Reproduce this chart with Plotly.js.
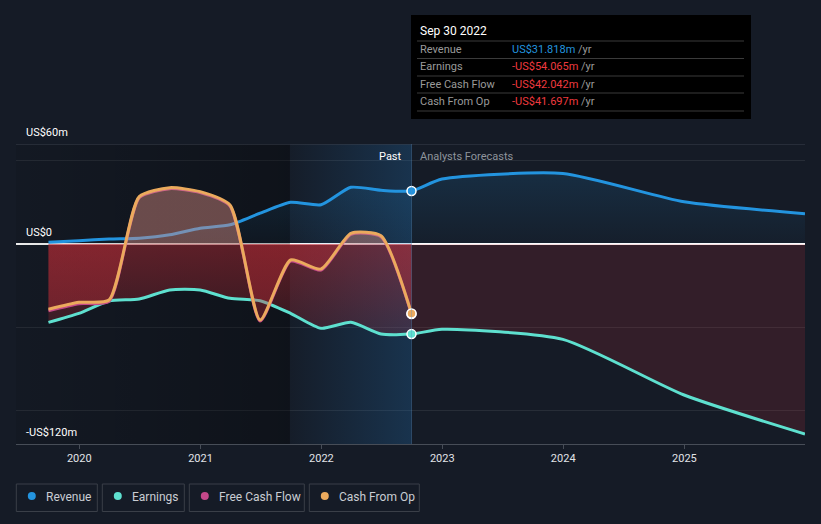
<!DOCTYPE html>
<html>
<head>
<meta charset="utf-8">
<script src="https://cdn.plot.ly/plotly-3.0.1.min.js"></script>
<style>
  html, body { margin: 0; padding: 0; background: #151b26; }
  #chart { width: 821px; height: 524px; }
</style>
</head>
<body>
<div id="chart"></div>
<script>
// ---------------- DATA ----------------
const pastDates = ['2019-09-30','2019-12-31','2020-03-31','2020-06-30','2020-09-30','2020-12-31',
                   '2021-03-31','2021-06-30','2021-09-30','2021-12-31','2022-03-31','2022-06-30','2022-09-30'];
const forecastDates = ['2022-12-31','2023-12-31','2024-12-31','2025-12-31'];

const revenuePast     = [1.0, 2.0, 3.0, 3.5, 5.5, 9.5, 11.5, 18.5, 25.0, 23.5, 34.0, 32.2, 31.818];
const revenueForecast = [39.0, 42.3, 25.3, 18.2];

const earningsPast     = [-47.0, -41.6, -34.2, -33.0, -27.6, -27.6, -32.6, -34.0, -41.6, -50.6, -47.0, -54.0, -54.065];
const earningsForecast = [-51.2, -57.2, -90.6, -114.0];

const fcfPast = [-40.0, -35.8, -34.4, 27.8, 33.2, 30.8, 22.8, -46.2, -10.3, -15.7, 5.8, 4.4, -42.042];
const cfoPast = [-39.2, -35.0, -33.6, 28.4, 33.8, 31.4, 23.4, -45.6, -9.6, -15.0, 6.4, 5.0, -41.697];

const yTickLabels = ['US$60m', 'US$0', '-US$120m'];
const yTickValues = [60, 0, -120];
const xTickValues = ['2020-01-01','2021-01-01','2022-01-01','2023-01-01','2024-01-01','2025-01-01'];
const xTickLabels = ['2020','2021','2022','2023','2024','2025'];

const tooltipDate = 'Sep 30 2022';
const tooltipRows = ['Revenue', 'Earnings', 'Free Cash Flow', 'Cash From Op'];
const tooltipValues = ['US$31.818m', '-US$54.065m', '-US$42.042m', '-US$41.697m'];

const legendNames = ['Revenue', 'Earnings', 'Free Cash Flow', 'Cash From Op'];

// ---------------- STYLE ----------------
const C_REV = '#2394df', C_EARN = '#5ee0cf', C_FCF = '#c4488a', C_CFO = '#ebaa5d';
const X_START = '2019-06-24', X_END = '2025-12-31';
const PAST_END = pastDates[pastDates.length - 1];
const HL_START = '2021-09-28';
const FONT = 'Roboto, "Open Sans", sans-serif';

// pixel -> paper helpers (plot area: x 16..805, y 144..444)
const L = 16, R = 805, T = 144, B = 444;
const px = x => (x - L) / (R - L);
const py = y => (B - y) / (B - T);

const last = a => a[a.length - 1];

const traces = [];

// background: darker past area
traces.push({
  x: [X_START, X_START, HL_START, HL_START], y: [-120, 60, 60, -120],
  mode: 'lines', line: {width: 0}, fill: 'toself',
  fillcolor: 'rgba(0,0,0,0.2)',
  fillgradient: {type: 'horizontal', colorscale: [[0, 'rgba(0,0,0,0.08)'], [1, 'rgba(0,0,0,0.32)']]},
  hoverinfo: 'skip', showlegend: false
});
// background: last-year highlight
traces.push({
  x: [HL_START, HL_START, PAST_END, PAST_END], y: [-120, 60, 60, -120],
  mode: 'lines', line: {width: 0}, fill: 'toself',
  fillcolor: 'rgba(35,120,190,0.15)',
  fillgradient: {type: 'horizontal', colorscale: [[0, 'rgba(35,120,190,0.02)'], [1, 'rgba(35,120,190,0.26)']]},
  hoverinfo: 'skip', showlegend: false
});

// revenue
traces.push({
  x: pastDates.concat(forecastDates), y: revenuePast.concat(revenueForecast),
  mode: 'lines', line: {color: C_REV, width: 3, shape: 'spline', smoothing: 0.6},
  fill: 'tozeroy', fillcolor: 'rgba(35,148,223,0.1)',
  fillgradient: {type: 'vertical', start: 0, stop: 45,
    colorscale: [[0, 'rgba(35,148,223,0.03)'], [1, 'rgba(35,148,223,0.16)']]},
  hoverinfo: 'skip', showlegend: false
});

// earnings fills
traces.push({
  x: pastDates, y: earningsPast,
  mode: 'lines', line: {width: 0, shape: 'spline', smoothing: 0.6},
  fill: 'tozeroy', fillcolor: 'rgba(200,45,55,0.3)',
  fillgradient: {type: 'vertical', start: -60, stop: 0,
    colorscale: [[0, 'rgba(200,45,55,0.16)'], [1, 'rgba(200,45,55,0.42)']]},
  hoverinfo: 'skip', showlegend: false
});
traces.push({
  x: [PAST_END].concat(forecastDates), y: [last(earningsPast)].concat(earningsForecast),
  mode: 'lines', line: {width: 0, shape: 'spline', smoothing: 0.6},
  fill: 'tozeroy', fillcolor: 'rgba(200,50,60,0.17)',
  hoverinfo: 'skip', showlegend: false
});
// earnings line
traces.push({
  x: pastDates.concat(forecastDates), y: earningsPast.concat(earningsForecast),
  mode: 'lines', line: {color: C_EARN, width: 3, shape: 'spline', smoothing: 0.6},
  hoverinfo: 'skip', showlegend: false
});

// free cash flow
traces.push({
  x: pastDates, y: fcfPast,
  mode: 'lines', line: {color: C_FCF, width: 3, shape: 'spline', smoothing: 0.6},
  hoverinfo: 'skip', showlegend: false
});

// cash from op
traces.push({
  x: pastDates, y: cfoPast,
  mode: 'lines', line: {color: C_CFO, width: 3, shape: 'spline', smoothing: 0.6},
  fill: 'tozeroy', fillcolor: 'rgba(200,45,55,0.35)',
  fillgradient: {type: 'vertical', start: -120, stop: 60,
    colorscale: [[0, 'rgba(200,45,55,0.35)'], [0.6660, 'rgba(200,45,55,0.35)'],
                 [0.6672, 'rgba(215,140,130,0.45)'], [1, 'rgba(215,140,130,0.45)']]},
  hoverinfo: 'skip', showlegend: false
});

// end markers
[[revenuePast, C_REV], [earningsPast, C_EARN], [fcfPast, C_FCF], [cfoPast, C_CFO]].forEach(([arr, col]) => {
  traces.push({
    x: [PAST_END], y: [last(arr)], mode: 'markers',
    marker: {size: 9, color: col, line: {color: '#ffffff', width: 1.5}},
    hoverinfo: 'skip', showlegend: false
  });
});

// ---------------- LAYOUT ----------------
const shapes = [
  // top gridline
  {type: 'line', xref: 'paper', yref: 'y', x0: 0, x1: 1, y0: 60, y1: 60,
   line: {color: '#3a414c', width: 1}},
  // past/forecast divider
  {type: 'line', xref: 'x', yref: 'paper', x0: PAST_END, x1: PAST_END, y0: 0, y1: 1,
   line: {color: 'rgba(90,140,190,0.35)', width: 1}},
  // tooltip box
  {type: 'rect', xref: 'paper', yref: 'paper', x0: px(411), x1: px(751), y0: py(119), y1: py(15),
   fillcolor: '#000000', line: {width: 0}, layer: 'above'}
];
[41, 58.5, 76, 93, 111].forEach(yy => {
  shapes.push({type: 'line', xref: 'paper', yref: 'paper', x0: px(417), x1: px(744), y0: py(yy), y1: py(yy),
               line: {color: '#3b3b3b', width: 1}, layer: 'above'});
});

const annotations = [];
yTickLabels.forEach((t, i) => {
  const yPix = {60: 132, 0: 232, '-120': 432}[yTickValues[i]];
  annotations.push({text: t, xref: 'paper', yref: 'paper', x: px(24), y: py(yPix),
    xanchor: 'left', yanchor: 'middle', showarrow: false,
    font: {family: FONT, size: 11, color: '#ffffff'}});
});
annotations.push({text: 'Past', xref: 'x', yref: 'paper', x: PAST_END, xshift: -7, y: py(156),
  xanchor: 'right', yanchor: 'middle', showarrow: false, font: {family: FONT, size: 11, color: '#ffffff'}});
annotations.push({text: 'Analysts Forecasts', xref: 'x', yref: 'paper', x: PAST_END, xshift: 7, y: py(156),
  xanchor: 'left', yanchor: 'middle', showarrow: false, font: {family: FONT, size: 11, color: '#8e949c'}});

// tooltip text
annotations.push({text: tooltipDate, xref: 'paper', yref: 'paper', x: px(418), y: py(31),
  xanchor: 'left', yanchor: 'middle', showarrow: false, font: {family: FONT, size: 12, color: '#ffffff'}});
const rowY = [49.5, 66.8, 84.2, 101.6];
tooltipRows.forEach((r, i) => {
  annotations.push({text: r, xref: 'paper', yref: 'paper', x: px(418), y: py(rowY[i]),
    xanchor: 'left', yanchor: 'middle', showarrow: false, font: {family: FONT, size: 11, color: '#9a9a9a'}});
  const col = i === 0 ? '#2394df' : '#ef3a3f';
  annotations.push({text: tooltipValues[i] + '<span style="color:#9a9a9a"> /yr</span>', xref: 'paper', yref: 'paper',
    x: px(510), y: py(rowY[i]), xanchor: 'left', yanchor: 'middle', showarrow: false,
    font: {family: FONT, size: 11, color: col}});
});

// legend
const legBoxes = [[16.3, 97.3], [102.3, 184.3], [189.3, 304.3], [309.3, 419.3]];
const legCols = [C_REV, C_EARN, C_FCF, C_CFO];
legendNames.forEach((n, i) => {
  const [a, b] = legBoxes[i];
  shapes.push({type: 'rect', xref: 'paper', yref: 'paper', x0: px(a), x1: px(b), y0: py(511.5), y1: py(484),
    fillcolor: 'rgba(0,0,0,0)', line: {color: '#3a3f48', width: 1}});
  const cx = a + 15.5, cy = 496;
  shapes.push({type: 'circle', xref: 'paper', yref: 'paper', x0: px(cx - 4), x1: px(cx + 4), y0: py(cy + 4), y1: py(cy - 4),
    fillcolor: legCols[i], line: {width: 0}});
  annotations.push({text: n, xref: 'paper', yref: 'paper', x: px(a + 27.5), y: py(496.5),
    xanchor: 'left', yanchor: 'middle', showarrow: false, font: {family: FONT, size: 12, color: '#c9cdd3'}});
});

const layout = {
  width: 821, height: 524,
  margin: {l: L, r: 821 - R, t: T, b: 524 - B, pad: 0},
  paper_bgcolor: '#151b26', plot_bgcolor: '#151b26',
  showlegend: false, hovermode: false,
  font: {family: FONT, color: '#ffffff'},
  xaxis: {
    type: 'date', range: [X_START, X_END], tickvals: xTickValues, ticktext: xTickLabels,
    showgrid: false, zeroline: false, showline: true, linecolor: '#474d57', linewidth: 1,
    ticks: 'outside', ticklen: 4, tickcolor: '#474d57',
    tickfont: {family: FONT, size: 11, color: '#e2e4e8'}, fixedrange: true
  },
  yaxis: {
    range: [-120, 60], tickvals: [-100, -50, 0, 50], showticklabels: false,
    showgrid: true, gridcolor: '#272d37', gridwidth: 1,
    zeroline: true, zerolinecolor: '#ffffff', zerolinewidth: 1.2,
    showline: false, fixedrange: true
  },
  shapes: shapes,
  annotations: annotations
};

Plotly.newPlot('chart', traces, layout, {displayModeBar: false, staticPlot: true});
</script>
</body>
</html>
